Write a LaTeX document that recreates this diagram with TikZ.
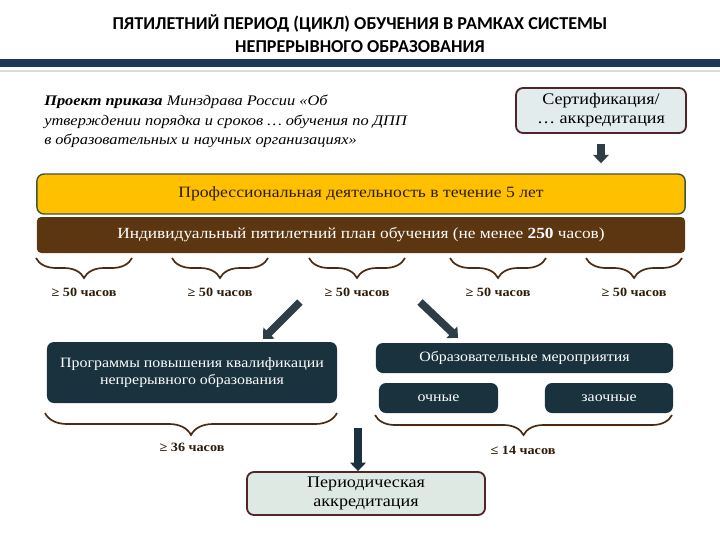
\documentclass[tikz,border=0pt]{standalone}
\usepackage{fontspec}
\setmainfont{Liberation Serif}[FakeStretch=1.12]
\newfontfamily\headfont{Carlito}
\usetikzlibrary{arrows.meta,decorations.pathreplacing}

\definecolor{navy}{RGB}{31,56,90}
\definecolor{rulegray}{RGB}{214,220,228}
\definecolor{certfill}{RGB}{226,236,236}
\definecolor{maroon}{RGB}{80,36,40}
\definecolor{gold}{RGB}{255,192,0}
\definecolor{goldline}{RGB}{60,84,60}
\definecolor{planbrown}{RGB}{92,54,16}
\definecolor{darkteal}{RGB}{26,50,62}
\definecolor{perfill}{RGB}{222,233,227}
\definecolor{bracebrown}{RGB}{74,42,16}
\definecolor{arrowgray}{RGB}{46,62,70}
\definecolor{textbrown}{RGB}{45,28,10}

\tikzset{
  lightbox/.style={draw=maroon, line width=1.3pt, fill=#1, rounded corners=5pt,
    align=center, inner sep=0pt, font=\fontsize{11.5}{13.5}\selectfont},
  darkbox/.style={fill=darkteal, rounded corners=5pt, text=white, align=center,
    inner sep=0pt, font=\fontsize{10.1}{12.3}\selectfont},
  hours/.style={font=\fontsize{9}{10}\selectfont\bfseries, text=textbrown},
  hbrace/.style={draw=bracebrown, line width=1.2pt, decorate,
    decoration={brace, mirror, amplitude=#1}},
  hbrace/.default=0.5cm,
  blockarrow/.style={draw=arrowgray, line width=5.5pt,
    -{Triangle[width=11pt,length=6pt]}}
}

\begin{document}
\begin{tikzpicture}[x=0.025cm,y=-0.025cm]

  \useasboundingbox (0,0) rectangle (720,540);

  \node[font=\headfont\bfseries\fontsize{12.9}{16.3}\selectfont, align=center] (title) at (360,34)
    {ПЯТИЛЕТНИЙ ПЕРИОД (ЦИКЛ) ОБУЧЕНИЯ В РАМКАХ СИСТЕМЫ\\НЕПРЕРЫВНОГО ОБРАЗОВАНИЯ};
  \fill[navy] (0,59) rectangle (720,67);
  \draw[rulegray, line width=0.8pt] (0,71) -- (720,71);

  \node[anchor=north west, align=left, inner sep=0pt,
    font=\fontsize{10.4}{13.8}\selectfont\itshape] (order) at (44,95)
    {\textbf{Проект приказа} Минздрава России «Об\\
     утверждении порядка и сроков \dots\ обучения по ДПП\\
     в образовательных и научных организациях»};

  \node[lightbox=certfill, minimum width=4.25cm, minimum height=1.125cm] (cert) at (601,110.5)
    {Сертификация/\\\dots\ аккредитация};

  \node[draw=goldline, line width=1pt, fill=gold, rounded corners=5pt,
    minimum width=16.2cm, minimum height=1cm, text=textbrown,
    font=\fontsize{11.2}{13}\selectfont] (prof) at (361,194)
    {Профессиональная деятельность в течение 5 лет};
  \node[fill=planbrown, rounded corners=3pt, minimum width=16.2cm, minimum height=0.9cm,
    text=white, font=\fontsize{11}{13}\selectfont] (plan) at (361,235)
    {Индивидуальный пятилетний план обучения (не менее \textbf{250} часов)};

  \draw[blockarrow] ([yshift=-0.25cm]cert.south) -- ([yshift=0.25cm]cert.south |- prof.north);

  \foreach \cx [count=\i] in {84,220,357,498,634} {
    \draw[hbrace] (\cx-48,258) -- (\cx+48,258);
    \node[hours] (h\i) at (\cx,292) {≥ 50 часов};
  }

  \node[darkbox, minimum width=7.25cm, minimum height=1.525cm] (prog) at (192,372.5)
    {Программы повышения квалификации\\непрерывного образования};
  \node[darkbox, minimum width=7.425cm, minimum height=0.75cm] (edu) at (524.5,358)
    {Образовательные мероприятия};
  \node[darkbox, minimum width=2.975cm, minimum height=0.75cm] (och) at (438.5,398) {очные};
  \node[darkbox, minimum width=3.2cm, minimum height=0.75cm] (zaoch) at (609,398) {заочные};

  \coordinate (l0) at (300,302);
  \coordinate (l1) at (263,339);
  \coordinate (r0) at (420,302);
  \coordinate (r1) at (458,338);
  \draw[blockarrow] (l0) -- (l1);
  \draw[blockarrow] (r0) -- (r1);

  \draw[hbrace=0.55cm] (45,413) -- (337,413);
  \node[hours] (h36) at (192,447) {≥ 36 часов};
  \draw[hbrace] (375,415) -- (672,415);
  \node[hours] (h14) at (523,450) {≤ 14 часов};

  \node[lightbox=perfill, minimum width=5.95cm, minimum height=1.075cm] (per) at (366,493.5)
    {Периодическая\\аккредитация};

  \coordinate (p0) at (358,428);
  \draw[blockarrow, draw=darkteal] (p0) -- (p0 |- per.north);

\end{tikzpicture}
\end{document}
